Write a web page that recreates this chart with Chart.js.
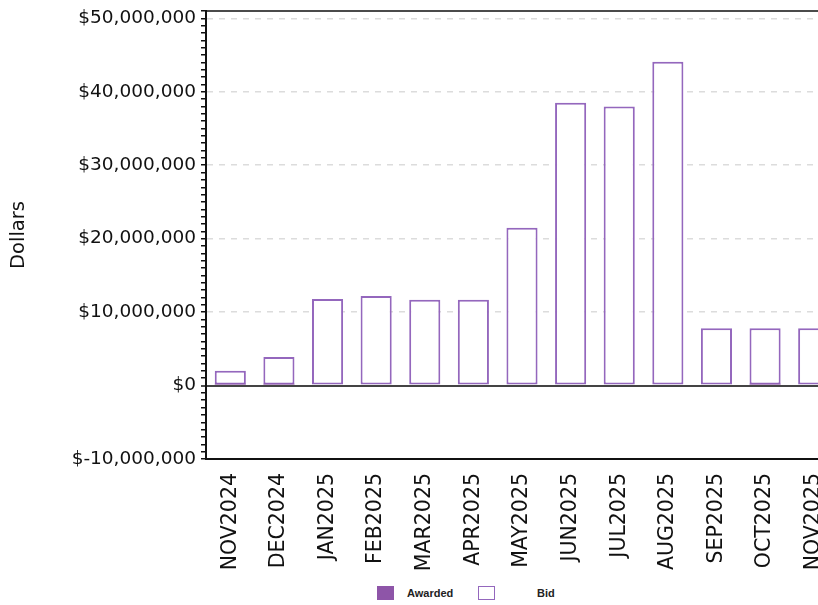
<!DOCTYPE html>
<html>
<head>
<meta charset="utf-8">
<script src="https://cdn.jsdelivr.net/npm/chart.js@4"></script>
<style>
  body { margin: 0; overflow: hidden; background: #fff; }
  #wrap { position: relative; width: 842px; height: 605px; }
  #legend { position: absolute; top: 586px; left: 377px; font: bold 11px "Liberation Sans", Arial, sans-serif; color: #222; }
  #legend span { position: absolute; white-space: nowrap; }
  .box { width: 15px; height: 12px; border: 1px solid #9467bd; }
</style>
</head>
<body>
<div id="wrap">
  <canvas id="chart" width="842" height="580"></canvas>
  <div id="legend">
    <span class="box" style="left:0; top:0; background:#8e55a8; border-color:#8e55a8;"></span>
    <span style="left:30px; top:1px;">Awarded</span>
    <span class="box" style="left:101px; top:0; background:#fff;"></span>
    <span style="left:160px; top:1px;">Bid</span>
  </div>
</div>
<script>
"use strict"

// Kategorier och värden
const months = ['NOV2024', 'DEC2024', 'JAN2025', 'FEB2025', 'MAR2025', 'APR2025', 'MAY2025',
    'JUN2025', 'JUL2025', 'AUG2025', 'SEP2025', 'OCT2025', 'NOV2025'];
const awarded = [250000, 250000, 0, 0, 0, 0, 0, 0, 0, 0, 0, 250000, 0];
const bid = [2000000, 3900000, 11800000, 12200000, 11700000, 11700000, 21500000,
    38500000, 38000000, 44100000, 7800000, 7800000, 7800000];

// Y-axelns etiketter
const yTickValues = [-10000000, 0, 10000000, 20000000, 30000000, 40000000, 50000000];
const yTickLabels = ['$-10,000,000', '$0', '$10,000,000', '$20,000,000', '$30,000,000', '$40,000,000', '$50,000,000'];

const purple = '#9467bd';

// Ram runt diagrammet (överkant)
const frame = {
    id: 'frame',
    afterDatasetsDraw(chart) {
        const { ctx, chartArea } = chart;
        ctx.save();
        ctx.strokeStyle = '#111';
        ctx.lineWidth = 1.5;
        ctx.beginPath();
        ctx.moveTo(chartArea.left, chartArea.top);
        ctx.lineTo(chartArea.right, chartArea.top);
        ctx.lineTo(chartArea.right, chartArea.bottom);
        ctx.stroke();
        ctx.restore();
    }
};

function isMajor(v) {
    return yTickValues.includes(v);
}

new Chart(document.getElementById('chart'), {
    type: 'bar',
    data: {
        labels: months,
        datasets: [{
            label: 'Awarded',
            data: awarded,
            backgroundColor: '#8e55a8',
            borderWidth: 0,
            grouped: false
        }, {
            label: 'Bid',
            data: bid,
            backgroundColor: '#ffffff',
            borderColor: purple,
            borderWidth: 2,
            borderSkipped: false,
            grouped: false
        }]
    },
    options: {
        responsive: false,
        animation: false,
        categoryPercentage: 0.8,
        barPercentage: 0.8,
        layout: { padding: { left: 0, top: 11, right: 4, bottom: 0 } },
        plugins: {
            legend: { display: false },
            tooltip: { enabled: false }
        },
        scales: {
            x: {
                afterFit: (scale) => {
                    scale.height = 121;
                    scale.paddingLeft = 0;
                    scale.paddingRight = 0;
                },
                grid: { drawOnChartArea: false, drawTicks: false },
                border: { color: '#111', width: 2 },
                ticks: {
                    minRotation: 90,
                    maxRotation: 90,
                    padding: 14,
                    color: '#111',
                    font: { family: 'DejaVu Sans', size: 20.5 }
                }
            },
            y: {
                min: -10000000,
                max: 51000000,
                afterFit: (scale) => {
                    scale.width = 206;
                    scale.paddingTop = 0;
                    scale.paddingBottom = 0;
                },
                border: {
                    color: '#111',
                    width: 2,
                    dash: (ctx) => ctx.tick && ctx.tick.value !== 0 ? [6, 6] : []
                },
                grid: {
                    color: (ctx) => {
                        if (!ctx.tick) return 'transparent';
                        if (ctx.tick.value === 0) return '#444';
                        return isMajor(ctx.tick.value) ? '#dcdcdc' : 'transparent';
                    },
                    lineWidth: (ctx) => ctx.tick && ctx.tick.value === 0 ? 2 : 1.5,
                    tickColor: '#111',
                    tickWidth: 1.5,
                    tickLength: 5
                },
                ticks: {
                    stepSize: 1000000,
                    maxTicksLimit: 100,
                    autoSkip: false,
                    padding: 5,
                    color: '#111',
                    font: { family: 'DejaVu Sans', size: 18.5 },
                    callback: (value) => {
                        const i = yTickValues.indexOf(value);
                        return i >= 0 ? yTickLabels[i] : '';
                    }
                },
                title: {
                    display: true,
                    text: 'Dollars',
                    color: '#111',
                    padding: { top: 7, bottom: 0 },
                    font: { family: 'DejaVu Sans', size: 19.5 }
                }
            }
        }
    },
    plugins: [frame]
});
</script>
</body>
</html>
